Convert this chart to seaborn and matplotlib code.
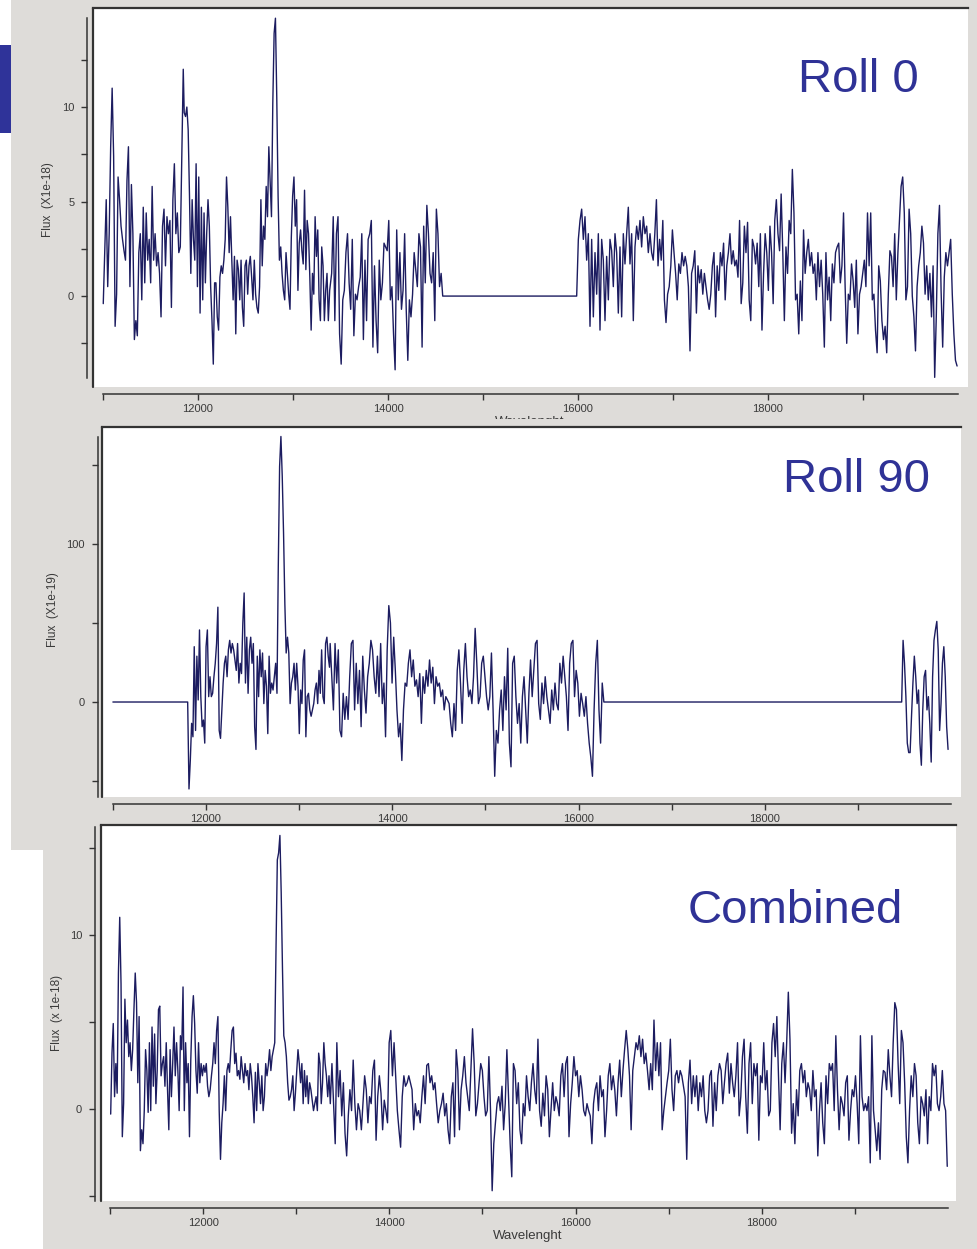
import numpy as np
import matplotlib
matplotlib.use("Agg")
import matplotlib.pyplot as plt
from matplotlib.patches import Rectangle
from matplotlib.transforms import Bbox
import seaborn as sns

# Roll 0, units 1e-18
roll0_a1 = [-0.4, 2.3, 5.1, 0.5, 3.3, 7.9, 11.0, 7.4, -1.6, 0.1, 6.3, 5.1, 3.7, 3.0, 2.4, 1.9, 6.1, 7.9, 0.5, 5.9,
            3.3, -2.3, -1.3, -2.1, 2.3, 3.3, -0.2, 4.7, 0.7, 4.4, 1.9, 3.0, 0.7, 5.8, 1.9, 3.3, 1.6, 2.3, 1.2, -1.1,
            3.7, 4.6, 1.6, 4.2, 3.3, 4.0, -0.6, 5.1, 7.0, 3.3, 4.4, 2.3, 2.6, 7.4, 12.0]
roll0_a2 = [9.7, 9.5, 10.0, 8.8, 5.3,
            1.2, 5.1, 3.0, 1.9, 7.0, 0.5, 6.3, -0.9, 4.7, -0.2, 4.4, 0.7, 3.3, 5.1, 3.7, 0.5, -1.3, -3.6, 0.7, 0.7,
            -1.1, -1.8, 1.0, 1.6, 1.2, 1.9, 3.0, 6.3, 4.7, 2.3, 4.2, 1.9, -0.2, 2.1, -2.0, 1.9, 1.4, -0.2, 1.9, -0.6,
            -1.6, 1.6, 1.9, 0.1, 1.6, 2.1, 1.0, -0.2, 1.9, 0.1, -0.6, -0.9, 0.5, 5.1, 1.6, 3.7, 3.0, 5.8, 4.2, 7.9,
            6.1, 4.2, 10.2, 13.9, 14.7, 10.5, 5.3, 1.9, 2.6, 1.2, 0.3, -0.2, 2.3, 1.2, 0.1, -0.7, 3.1, 5.3, 6.3, 3.7,
            5.1, 0.3, 2.8, 3.5, 2.4, 1.7, 5.6, 1.4, 4.0, 3.3, 1.0, -1.8, 1.2, 0.1, 4.2, 2.1, 3.5, -0.2, -1.3, 2.6,
            1.6, -1.3, 0.3, 1.2, -1.3, 0.3]
roll0_a3 = [1.2, 4.2, -1.3, 3.3, 4.2, -2.0, -3.6, -0.2, 0.3, 2.3, 3.3, 0.7, -0.7, 3.0, -2.1, 0.1, -0.2, 0.5, 1.0, 3.3,
            -2.3, 1.9, -1.3, 3.0, 3.3, 4.0, -2.7, 1.6, -1.3, -3.0, 1.9, -0.2, 0.7, 2.8, 2.6, 2.4, 4.0, -0.2, 0.5, -2.0,
            -3.9, 3.5, -0.2, 2.3, -0.7, 0.3, 3.3, -0.7, -3.4, -0.2, -1.1, 0.1, 2.3, 1.4, 0.5, 3.3, 2.6, -2.7, 3.7, 0.7,
            4.8, 3.3, 1.2, 0.7, 2.3, -1.3, 4.6, 3.3, 0.5, 1.2, 0.0]
roll0_b1 = [0.0, 3.0, 4.0, 4.6, 3.0, 4.2, 1.9, 3.3, -1.6, 3.0, -1.1, 2.3, 0.1, 3.3, -1.8, 3.0, 1.9, -1.3, 2.1, -0.2,
            3.0, 2.4, 0.5, 3.3, 2.3, -0.9, 2.6, -1.1, 3.3, 1.7, 3.3, 4.7, 1.7, 3.3, -1.3, 2.6, 3.7, 3.0, 4.0, 2.6,
            4.2, 3.3, 3.7, 2.3]
roll0_b2 = [3.3, 2.3, 1.9, 3.3, 5.1, 1.6, 3.0, 1.9, 4.0, -0.2, -1.4, 0.1, 0.5, 1.6, 3.5, 2.3, 1.2, -0.2, 1.7, 1.2,
            2.3, 1.6, 2.1, 1.6, 0.5, -2.9, 1.2, 1.6, 2.4, -0.9, 1.6, 0.7, 1.4, 0.1, 1.2, 0.5, -0.2, -0.7, 0.1, 1.6,
            2.3, -1.1, 1.6, 0.3, 2.3, 1.6, 2.8, -0.2, 1.6, 2.3, 3.3, 1.7, 2.4, 1.6, 1.9, 1.0, 4.0, -0.4, 0.7, 3.7,
            2.3, 3.9, -0.2, -1.3, 3.0, 2.6, 1.7, 2.8, 0.5, 3.3, -1.8, 1.2, 3.3, 2.3, 0.3, 3.7, 2.3, -0.4, 4.0, 5.1,
            3.3, 2.4, 5.4, 2.4, -1.3, 2.6, 1.2, 4.0, 3.3, 6.7, 4.4, -0.2, 0.1, -2.0, 0.8, -1.3, 3.5, 1.2, 2.3, 3.0,
            1.6, 2.3, 1.2, 1.7, -0.2, 2.3, 0.5, 1.9, 0.1, -2.7, 2.3, -0.2, 1.0, -1.3, 1.7, 0.7, 2.3, 2.6, 2.8, 0.7,
            1.6, 4.4, 0.5, -2.5, 0.1, -0.2, 1.7, 0.8, -0.6, 1.9, -2.0, 0.1, 0.5, 1.2, 1.9, 0.5, 4.4, 1.6, 4.4, -0.2,
            0.1, -1.8, -3.0, 1.6, 0.8, -1.3, -2.3, -1.6, -3.0, 0.1, 2.4, 2.1, 0.5, 3.3, -0.2, 2.3, 4.0, 5.8, 6.3, 4.4,
            -0.2, 0.5, 4.6, 3.3, 0.0, -1.1, -2.9, 0.5, 1.6, 2.3, 3.7, 2.8, 0.1, 1.6, -0.2, 1.2, -1.1, 1.6, -4.3, -1.1,
            3.3, 4.8, 0.3, -2.7, 1.0, 2.3, 1.6, 2.3, 3.0, 0.1, -2.0, -3.4, -3.7]

# Roll 90, units 1e-19
roll90_lead = [0.0]
roll90_a = [0, -55, -37, -13.5, -22, 35, -18, 29, 1.3, 45.6, 3.4, -15.6, -11.4, -26, 35, 45.6, 3.4, 16, 3.4, 5.5,
            16, 24.5, 37, 60, -18, -23, -5, 12, 24.5, 29, 16, 33, 39, 31, 37, 33, 26.6, 20, 37, 12,
            24.5, 18, 50, 69, 12, 41, 5.5, 33, 41, 24.5, 37, -15.6, -30, 29, 3.4, 33, 16, 31, -1, 20,
            10, -20, 29, 5.5, 12, 7.6, 16, 24.5, 5.5, 86, 149, 168, 143, 107, 62, 31, 41, 31, -1, 12,
            16, 24.5, 7.6, 24.5, 10, -20, 7.6, -1, 26.6, 33, -22, 3.4, 5.5, -5, -9, -5, -1, 7.6, 12, -1,
            20, 5.5, 33, 3.4, -1, 37, 41, 29, 22]
roll90_b = [37, 16, -5, 37, 12, 33, -18, -22, 5.5, -11, 3.4, -11, 16, 37, 39, -5, 24.5, -1, 20, -15.6,
            29, 7.6, -7, 16, 24.5, 39, 33, 16, 5.5, 29, 3.4, 37, -1, 12, -22, 33, 61, 50, 12, 41,
            20, -5, -22, -13.5, -37, -5, 12, 10, 24.5, 33, 16, 26.6, 10, 14, 3.4, 18, -13.5, 16, 5.5, 20,
            10, 26.6, 12, 22, -1, 16, 10, 12, 3.4, 7.6, -5, 3.4, 1.3, -1, -13.5, -22, -1, -18, 20, 33,
            12, -13.5, 20, 37, 16, 3.4, 7.6, -1, 16, 46.6, 24.5, -1, 3.4, 24.5, 29, 16, 3.4, -5, 3.4, 31,
            -5, -47, -18, -26, -5, 7.6, -18, 16, -5, 34, -26, -41, 24.5, 29, 3.4, -13.5, -1, -26, 3.4, 16,
            -5, -26, 5.5, 26.6, 3.4, 20, 37, 39, -1, -11, 12, -1, 16, 3.4, -5, -13.5, 7.6, -5, 12, -1,
            -5, 24.5, 12, 29, 16, 3.4, -18, 24.5, 37, 39, 3.4, 20, 12, -9, 5.5, -1, -9, 3.4, -13.5, -26,
            -35, -47, -5, 24.5, 39, -5, -26, 12, 0]
roll90_c = [0, 39, 24.5, 3.4, -26, -32, -32, -9, 12, 29, 16, -1, 7.6, -26, -40, -5, 16, 20, -5, 3.4,
            -13.5, -38, 16, 39, 45.6, 51, 33, -18, -1, 24.5, 35, 16, -15.6, -30]

# Combined, units 1e-18
comb_a = [-0.3, 3.2, 4.9, 0.7, 2.6, 0.9, 7.8, 11.0, 7.2, -1.6, 0.3, 6.3, 3.8, 5.1, 3.0, 3.8, 2.2, 3.4, 5.7, 7.8,
          6.1, 1.5, 5.3, -2.4, -1.2, -2.0, -0.1, 3.4, 2.2, -0.2, 3.8, -0.1, 4.7, 1.3, 4.3, 0.3, 2.2, 5.7, 5.9, 1.9,
          2.6, 3.0, 1.3, 3.8, 1.1, -1.2, 3.4, 0.7, 2.6, 4.7, 1.9, 3.8, 2.2, -0.1, 4.2, 3.4, 7.0, -0.1, 3.8, 1.5,
          2.6, -1.6, 2.8, 5.3, 6.5, 4.9, 2.2, 0.9, 3.8, 1.5, 2.6, 1.9, 2.5, 2.1, 2.6, 1.3, 0.7, 1.1, 1.9, 2.6,
          3.8, 2.6, 4.5, 5.3, -0.1, -2.9, -0.8, 0.3, 1.9, -0.1, 2.2, 2.6, 2.1, 3.4, 4.5, 4.7, 2.6, 3.2, 1.9, 2.2,
          1.7, 3.0, 2.2, 1.5, 2.6, 1.9, 2.2, 1.1, 2.6, 1.9, 0.7, -0.8, 2.1, -0.1, 2.6, 1.5, 0.3, 1.9, -0.1, 0.7,
          2.6, 1.9, 2.5, 3.4, 2.2, 3.0, 3.4, 3.8, 9.3, 14.3, 14.7, 15.7, 12.4, 8.0, 4.2, 3.8, 3.0, 1.5, 0.5, 0.7,
          1.1, 1.9, -0.1, 0.9, 2.2, 3.4, 2.6, 1.5, 2.6, 0.3, 2.2, 0.7, 1.9, 0.3, 1.5, 1.1, 0.5, -0.1, 0.3, 0.7,
          -0.1, 3.2, 2.6, 0.3, 1.5, 3.8, 2.6, 1.9, 0.7, 1.9]
comb_b = [0.3, 2.6, 0.3, -2.0, 3.8, 0.7, 2.2, -0.4, 1.5, -1.4, -2.7, -0.4, 1.1, -0.1, 2.8, 0.3, -1.2, 0.3, -0.1, -1.2,
          0.3, 1.9, 1.1, -0.8, 0.7, 0.3, 2.2, 2.8, -1.8, 0.7, 1.9, 0.9, -1.2, 0.5, -0.1, -0.8, 3.8, 4.5, 1.9, 3.8,
          1.9, -0.1, -1.2, -2.2, 0.7, 1.9, 1.3, 1.5, 1.9, 1.5, 1.1, -1.2, 0.3, -0.4, -0.1, -0.8, 0.7, 1.9, 0.3, 2.5,
          2.6, 1.5, 1.9, 1.1, 1.5, 0.3, -0.8, -0.1, 0.3, 0.9, -0.4, 0.3, -1.2, -2.0, 0.7, 1.5, -1.6, 3.4, 2.2, -1.2,
          1.1, 1.9, 3.0, 1.5, 0.7, -0.1, 2.2, 4.6, 2.6, -0.4, 0.3, 1.5, 2.6, 2.2, 0.7, -0.4, -0.1, 3.0, -0.1, -4.7,
          -2.0, -0.8, 0.3, 0.7, -0.1, 1.3, -1.2, 0.3, 3.4, 0.7, -2.0, -3.9, 2.6, 2.2, 0.3, 1.5, -1.2, -2.0, 0.3, -0.4,
          1.9, 0.7, -0.1, 1.5, 2.6, 1.1, 0.3, 4.0, -0.1, -1.0, 0.9, -0.4, 1.9, 1.1, -1.6, -0.1, 1.5, -0.1, 0.7, 0.3,
          -0.4, 1.9, 2.6, 0.7, 2.6, 3.0, -1.6, 0.3, 1.5, 3.0, 1.9, 2.2, 0.7, 1.9, 1.1, -0.1, -0.4, 0.3, -0.1, -0.4,
          -2.0, 0.3, 1.1, 1.5, -0.1, 1.9, 0.7, 1.1, -1.6, -0.1, 1.9, 2.6, 1.1, 1.9, 1.1, -0.4, 1.5, 2.8, 0.7, 2.2,
          3.4, 4.5, 3.4, 1.9, -1.2, 2.2, 3.0, 3.8, 3.4, 4.2, 3.0, 4.0, 2.6, 3.2, 2.2, 1.1]
comb_c = [2.6, 1.1, 5.1, 2.2, 3.8, 1.9, 3.8, -1.2, -0.1, 0.7, 1.5, 2.2, 4.0, 1.1, -0.1, 1.9, 2.2, 1.5, 2.2, 1.9,
          1.3, 0.7, -2.9, 1.5, 2.8, 0.3, 1.9, 0.7, 1.9, -0.1, 1.5, 0.7, 1.9, -0.1, -0.8, -0.1, 1.9, 2.2, -1.0, 1.5,
          -0.1, 1.9, 2.6, 2.2, 0.3, 1.5, 2.6, 3.2, 0.9, 2.6, 1.5, 0.7, 1.9, 3.8, -0.4, 0.7, 3.0, 4.0, 0.7, -1.4,
          2.6, 3.8, 0.3, 2.6, 1.9, 2.6, -1.8, 1.9, 1.5, 3.8, 1.1, 2.2, -0.4, -0.1, 3.8, 4.9, 3.0, 5.3, 1.9, -1.2,
          2.6, 3.8, 1.5, 3.8, 6.7, 4.0, -1.4, 0.3, -2.0, 1.1, -0.4, 2.2, 2.6, 1.5, 2.2, 0.7, 1.5, 1.1, -0.1, 2.2,
          0.7, 1.1, -2.7, -0.1, 1.5, -0.8, -2.0, 1.9, 0.3, 2.6, 2.2, 2.6, -0.1, 4.2, 1.1, -1.2, 0.7, 0.3, -0.4, 1.5,
          1.9, -1.8, -0.1, 1.1, 0.7, 1.9, 0.3, -2.0, 4.2, 0.7, -0.1, 0.3, -0.1, 0.7, -3.1, 4.2, -0.1, -1.2, -2.4, -0.8,
          -2.9, 1.1, 2.2, 2.1, 1.1, 3.4, 1.9, 0.7, 3.8, 6.1, 5.7, 2.6, 0.3, 4.5, 3.8, 1.5, -1.6, -3.1, -0.1, 1.9,
          0.7, 2.6, 1.9, -0.8, -2.0, 0.7, 0.3, -0.4, 1.1, -2.0, 0.7, -0.1, 2.6, 1.9, 2.5, 0.3, -0.1, 0.7, 2.2, 0.3,
          -0.1, -3.3]

# wavelength span (start, end) of each segment
roll0_spans = [(11003, 11845), (11855, 13386), (13407, 14576), (15986, 16740), (16758, 19990)]
roll90_spans = [(11000, 11000), (11803, 13326), (13333, 16272), (19470, 19968)]
comb_spans = [(11008, 13352), (13366, 16789), (16806, 19990)]

panel_titles = ["Roll 0", "Roll 90", "Combined"]
panel_ylabels = ["Flux  (X1e-18)", "Flux  (X1e-19)", "Flux  (x 1e-18)"]
xtick_values = list(range(11000, 20000, 1000))
xtick_labels = ["", "12000", "", "14000", "", "16000", "", "18000", ""]
ytick_values = [[-2.5, 0, 2.5, 5, 7.5, 10, 12.5], [-50, 0, 50, 100, 150], [-5, 0, 5, 10, 15]]
ytick_labels = [["", "0", "", "5", "", "10", ""], ["", "0", "", "100", ""], ["", "0", "", "10", ""]]


def build(segments, spans):
    w = np.concatenate([np.linspace(a, b, len(s)) for s, (a, b) in zip(segments, spans)])
    f = np.concatenate([np.asarray(s, float) for s in segments])
    return w, f


W, H = 978, 1249
GRAY = "#dedcd9"
NAVY = "#1c1c60"
INK = "#3a3a3a"
TITLE = "#2f3296"

sns.set_theme(style="white")
plt.rcParams["font.family"] = ["Liberation Sans", "DejaVu Sans"]

fig = plt.figure(figsize=(W / 100, H / 100), dpi=100, facecolor="white")


def px_rect(x0, y0, x1, y1, color, z=-10):
    fig.patches.append(Rectangle((x0 / W, 1 - y1 / H), (x1 - x0) / W, (y1 - y0) / H,
                                 transform=fig.transFigure, facecolor=color, edgecolor="none", zorder=z))


# screenshot backgrounds
px_rect(11, 0, W, 850, GRAY)
px_rect(43, 810, W, H, GRAY)
px_rect(0, 45, 11, 133, "#2f3399")

# plot frames in pixels: left, top, right, bottom
frames = [(93, 8, 968, 387), (102, 427, 961, 797), (101, 825, 956, 1201)]
xlims = [(10895, 20105), (10883, 20107), (10904, 20084)]
ylims = [(-4.81, 15.24), (-60.1, 174.0), (-5.29, 16.3)]
ybounds = [(-4.34, 14.7), (-60.0, 167.7), (-5.3, 16.2)]
yoff = [4, 3, 4]

data = [build([roll0_a1, roll0_a2, roll0_a3, roll0_b1, roll0_b2], roll0_spans),
        build([roll90_lead, roll90_a, roll90_b, roll90_c], roll90_spans),
        build([comb_a, comb_b, comb_c], comb_spans)]

for i, (l, t, r, b) in enumerate(frames):
    ax = fig.add_axes([l / W, 1 - b / H, (r - l) / W, (b - t) / H])
    ax.set_facecolor("white")
    wave, flux = data[i]
    sns.lineplot(x=wave, y=flux, ax=ax, color=NAVY, linewidth=1.0, sort=False, estimator=None)
    ax.set_xlim(*xlims[i])
    ax.set_ylim(*ylims[i])
    ax.set_xlabel("")
    ax.set_ylabel("")

    ax.spines["right"].set_visible(False)
    ax.spines["top"].set_color("#333333")
    ax.spines["top"].set_linewidth(1.6)
    ax.plot([0, 0], [0, 1], transform=ax.transAxes, color="#333333", lw=1.6, clip_on=False)
    for side in ["left", "bottom"]:
        ax.spines[side].set_color("#333333")
        ax.spines[side].set_linewidth(1.1)
    ax.spines["left"].set_position(("outward", yoff[i]))
    ax.spines["left"].set_bounds(*ybounds[i])
    ax.spines["bottom"].set_position(("outward", 5))
    ax.spines["bottom"].set_bounds(11000, 20000)

    ax.set_xticks(xtick_values)
    ax.set_xticklabels(xtick_labels)
    ax.set_yticks(ytick_values[i])
    ax.set_yticklabels(ytick_labels[i])
    ax.tick_params(axis="both", direction="out", length=4.5, width=1, color="#333333",
                   labelsize=8, labelcolor=INK, left=True, bottom=True)
    ax.tick_params(axis="x", pad=3)
    ax.tick_params(axis="y", pad=5)

# titles
fig.text(919 / W, 1 - 92 / H, panel_titles[0], ha="right", va="baseline", fontsize=34, color=TITLE)
fig.text(930 / W, 1 - 492 / H, panel_titles[1], ha="right", va="baseline", fontsize=34, color=TITLE)
fig.text(903 / W, 1 - 923 / H, panel_titles[2], ha="right", va="baseline", fontsize=34, color=TITLE)

# y labels
for (xp, yp), lab in zip([(48, 200), (53, 610), (57, 1013)], panel_ylabels):
    fig.text(xp / W, 1 - yp / H, lab, rotation=90, ha="center", va="center", fontsize=8.5, color=INK)

# x labels (the first one is hidden under the second screenshot)
t1 = fig.text(530 / W, 1 - 422 / H, "Wavelenght", ha="center", va="center", fontsize=9.5, color=INK)
t1.set_clip_box(Bbox([[0, H - 419], [W, H]]))
t1.set_clip_on(True)
fig.text(528 / W, 1 - 1236 / H, "Wavelenght", ha="center", va="center", fontsize=9.5, color=INK)

fig.savefig("out.png", dpi=100, facecolor="white")
